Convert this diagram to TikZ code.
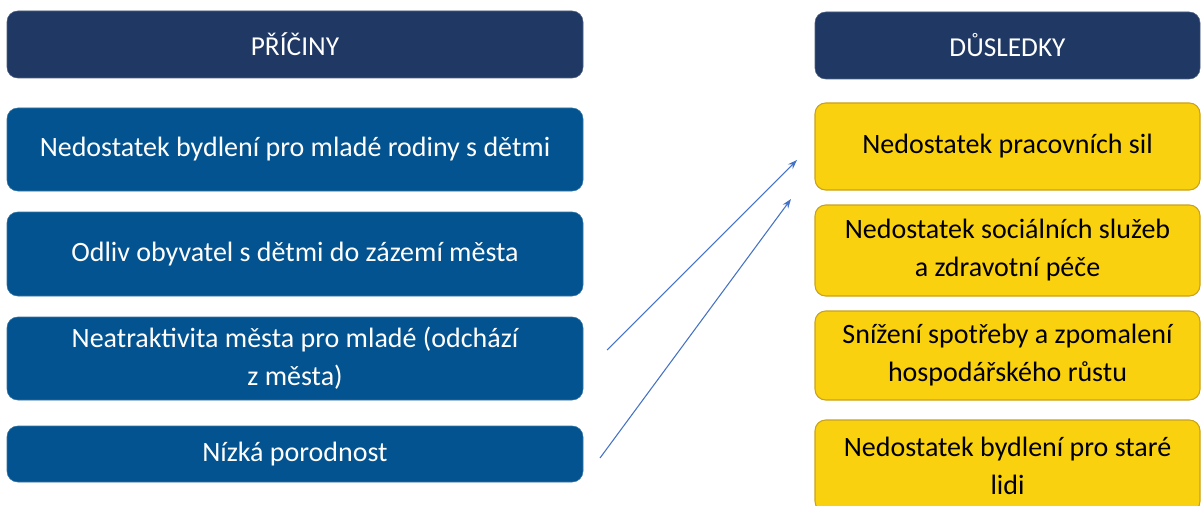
\documentclass[tikz,border=0pt]{standalone}
\usepackage{fontspec}
\setmainfont{Carlito}
\usetikzlibrary{arrows.meta}
\definecolor{navy}{HTML}{203864}
\definecolor{bluebox}{HTML}{02538F}
\definecolor{yellowbox}{HTML}{FAD10E}
\definecolor{yellowedge}{HTML}{C9A21A}
\definecolor{arrowblue}{HTML}{4472C4}
\tikzset{
  basebox/.style={rectangle, rounded corners=8pt, align=center, inner sep=0pt,
    font=\fontsize{21}{28.5}\selectfont},
  headbox/.style={basebox, fill=navy, draw=navy!80!white, text=white, minimum width=432pt,
    font=\fontsize{20.5}{28.5}\selectfont},
  causebox/.style={basebox, fill=bluebox, draw=bluebox!80!white, text=white, minimum width=432pt},
  effectbox/.style={basebox, fill=yellowbox, draw=yellowedge, line width=0.8pt, text=black, minimum width=288.75pt},
  conn/.style={draw=arrowblue, line width=0.8pt, -{Stealth[length=7pt,width=5pt]}}
}
\begin{document}
\begin{tikzpicture}[x=0.75pt,y=-0.75pt]
\useasboundingbox (0,0) rectangle (1201,506);
\clip (0,0) rectangle (1201,506);
% left column
\node[headbox, minimum height=50.25pt] (h1) at (295,44.5) {PŘÍČINY};
\node[causebox, minimum height=62.25pt] (c1) at (295,149.5) {Nedostatek bydlení pro mladé rodiny s dětmi};
\node[causebox, minimum height=63pt] (c2) at (295,254) {Odliv obyvatel s dětmi do zázemí města};
\node[causebox, minimum height=62.25pt] (c3) at (295,358.5) {Neatraktivita města pro mladé (odchází\\ z města)};
\node[causebox, minimum height=42pt] (c4) at (295,454) {Nízká porodnost};
% right column
\node[headbox, minimum width=288.75pt, minimum height=50.25pt] (h2) at (1007.5,45.5) {DŮSLEDKY};
\node[effectbox, minimum height=65.25pt] (e1) at (1007.5,146.5) {Nedostatek pracovních sil};
\node[effectbox, minimum height=68.25pt] (e2) at (1007.5,250.5) {Nedostatek sociálních služeb\\ a zdravotní péče};
\node[effectbox, minimum height=66.75pt] (e3) at (1007.5,355.5) {Snížení spotřeby a zpomalení\\ hospodářského růstu};
\node[effectbox, minimum height=69pt] (e4) at (1007.5,466) {Nedostatek bydlení pro staré\\ lidi};
% connectors
\coordinate (a1s) at (607,350);
\coordinate (a1e) at (797,160);
\coordinate (a2s) at (600,458);
\coordinate (a2e) at (791,199);
\draw[conn] (a1s) -- (a1e);
\draw[conn] (a2s) -- (a2e);
\end{tikzpicture}
\end{document}
